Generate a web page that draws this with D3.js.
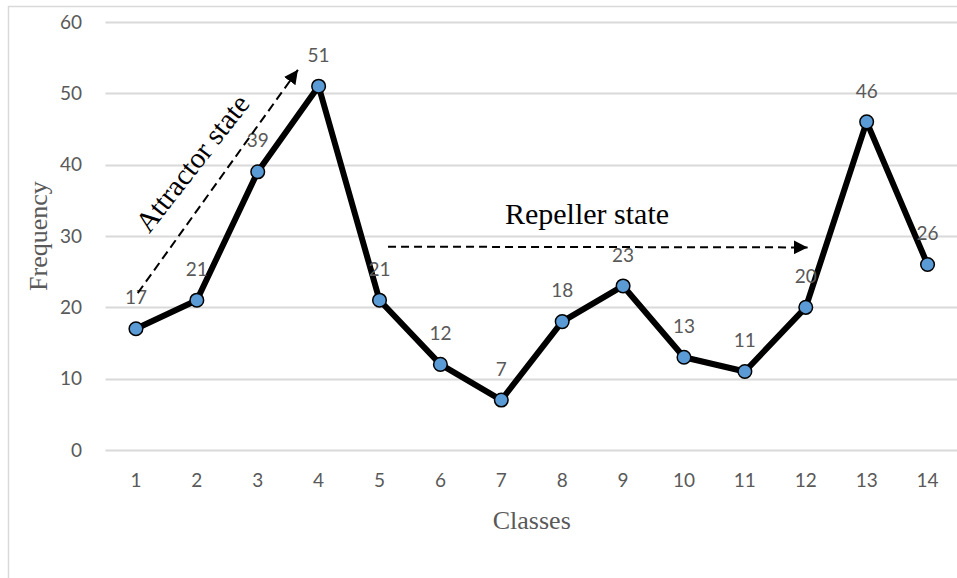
<!DOCTYPE html>
<html>
<head>
<meta charset="utf-8">
<script src="https://cdn.jsdelivr.net/npm/d3@7"></script>
<style>
  html, body { margin: 0; padding: 0; background: #fff; }
  svg { display: block; }
</style>
</head>
<body>
<svg id="chart" width="957" height="578"></svg>
<script>
// ---- data ----
const classes = [1, 2, 3, 4, 5, 6, 7, 8, 9, 10, 11, 12, 13, 14];
const frequency = [17, 21, 39, 51, 21, 12, 7, 18, 23, 13, 11, 20, 46, 26];
const yTicks = [0, 10, 20, 30, 40, 50, 60];
const xTitle = "Classes";
const yTitle = "Frequency";
// annotations in data space: [class, value]
const attractorArrow = [[1.03, 22.0], [3.66, 53.3]];
const repellerArrow = [[5.14, 28.5], [12.03, 28.4]];
const attractorLabel = "Attractor state";
const repellerLabel = "Repeller state";

// ---- layout ----
const svg = d3.select("#chart");
const plot = { left: 105.5, right: 958, top: 22, bottom: 450 };
const tickFont = "Lato, 'Open Sans', sans-serif";
const serif = "'Liberation Serif', 'DejaVu Serif', serif";
const grey = "#595959";

// chart border
svg.append("rect")
  .attr("x", 8.5).attr("y", 6.5)
  .attr("width", 1000).attr("height", 1000)
  .attr("fill", "#fff").attr("stroke", "#d9d9d9").attr("stroke-width", 1.5);

const x = d3.scalePoint().domain(classes).range([plot.left, plot.right]).padding(0.5);
const xc = d3.scaleLinear().domain([1, 14]).range([x(1), x(14)]);
const y = d3.scaleLinear().domain([0, 60]).range([plot.bottom, plot.top]);

// gridlines
svg.append("g").selectAll("line").data(yTicks).join("line")
  .attr("x1", plot.left).attr("x2", 957)
  .attr("y1", d => Math.round(y(d)) + 0.5).attr("y2", d => Math.round(y(d)) + 0.5)
  .attr("stroke", "#d9d9d9").attr("stroke-width", 2);

// y tick labels
svg.append("g").selectAll("text").data(yTicks).join("text")
  .attr("x", 82).attr("y", d => y(d))
  .attr("dy", "0.35em")
  .attr("text-anchor", "end")
  .attr("font-family", tickFont).attr("font-size", 19)
  .attr("fill", grey)
  .text(d => d);

// x tick labels
svg.append("g").selectAll("text").data(classes).join("text")
  .attr("x", d => x(d)).attr("y", 480)
  .attr("dy", "0.35em")
  .attr("text-anchor", "middle")
  .attr("font-family", tickFont).attr("font-size", 19)
  .attr("fill", grey)
  .text(d => d);

// axis titles
svg.append("text")
  .attr("x", (plot.left + plot.right) / 2).attr("y", 520)
  .attr("dy", "0.35em")
  .attr("text-anchor", "middle")
  .attr("font-family", serif).attr("font-size", 26)
  .attr("fill", grey)
  .text(xTitle);

svg.append("text")
  .attr("transform", `translate(38,${(plot.top + plot.bottom) / 2}) rotate(-90)`)
  .attr("dy", "0.35em")
  .attr("text-anchor", "middle")
  .attr("font-family", serif).attr("font-size", 26)
  .attr("fill", grey)
  .text(yTitle);

// arrow marker
const defs = svg.append("defs");
defs.append("marker")
  .attr("id", "arrow")
  .attr("viewBox", "0 0 10 10")
  .attr("refX", 10).attr("refY", 5)
  .attr("markerWidth", 7).attr("markerHeight", 7)
  .attr("markerUnits", "strokeWidth")
  .attr("orient", "auto")
  .append("path").attr("d", "M0,0 L10,5 L0,10 Z").attr("fill", "#000");

// line
const line = d3.line().x((d, i) => x(classes[i])).y(d => y(d));
svg.append("path")
  .datum(frequency)
  .attr("d", line)
  .attr("fill", "none")
  .attr("stroke", "#000")
  .attr("stroke-width", 6)
  .attr("stroke-linejoin", "round");

// data labels
svg.append("g").selectAll("text").data(frequency).join("text")
  .attr("x", (d, i) => x(classes[i])).attr("y", d => y(d) - 31)
  .attr("dy", "0.35em")
  .attr("text-anchor", "middle")
  .attr("font-family", tickFont).attr("font-size", 19)
  .attr("fill", grey)
  .text(d => d);

// annotations
function arrow(pts, dash) {
  svg.append("line")
    .attr("x1", xc(pts[0][0])).attr("y1", y(pts[0][1]))
    .attr("x2", xc(pts[1][0])).attr("y2", y(pts[1][1]))
    .attr("stroke", "#000").attr("stroke-width", 2)
    .attr("stroke-dasharray", dash)
    .attr("marker-end", "url(#arrow)");
}
arrow(attractorArrow, "9,5");
arrow(repellerArrow, "8,5");

// markers
svg.append("g").selectAll("circle").data(frequency).join("circle")
  .attr("cx", (d, i) => x(classes[i])).attr("cy", d => y(d))
  .attr("r", 6.8)
  .attr("fill", "#5b9bd5")
  .attr("stroke", "#000").attr("stroke-width", 1.5);

// annotation labels
svg.append("text")
  .attr("transform", `translate(192,163) rotate(-52)`)
  .attr("dy", "0.35em")
  .attr("text-anchor", "middle")
  .attr("font-family", serif).attr("font-size", 29)
  .attr("fill", "#000")
  .text(attractorLabel);

svg.append("text")
  .attr("x", 587).attr("y", 224)
  .attr("text-anchor", "middle")
  .attr("font-family", serif).attr("font-size", 30)
  .attr("fill", "#000")
  .text(repellerLabel);
</script>
</body>
</html>
